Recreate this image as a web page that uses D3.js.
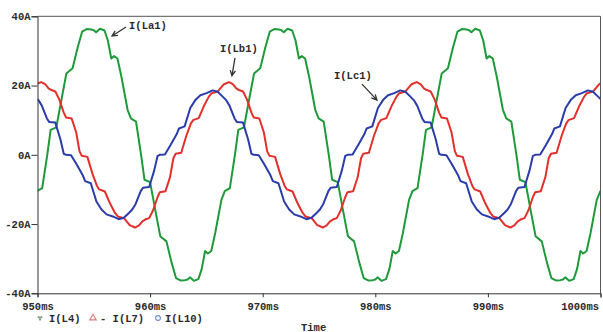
<!DOCTYPE html>
<html>
<head>
<meta charset="utf-8">
<script src="https://cdn.jsdelivr.net/npm/d3@7"></script>
<style>
  html, body { margin: 0; padding: 0; background: #fff; }
  svg { display: block; }
  .axis text { font-family: "Liberation Mono", "DejaVu Sans Mono", monospace; font-size: 10.5px; font-weight: bold; fill: #2a2a2a; }
  .lbl { font-family: "Liberation Mono", "DejaVu Sans Mono", monospace; font-size: 10.5px; font-weight: bold; fill: #2a2a2a; }
</style>
</head>
<body>
<svg id="chart" width="603" height="332"></svg>
<script>
// Axis ticks
const xTicks = [950, 960, 970, 980, 990, 1000];   // ms
const yTicks = [-40, -20, 0, 20, 40];             // A

// I(L4)  -- phase a inductor current (green)
const tL4 = [950, 950.417, 950.867, 951.167, 951.667, 952.217, 952.567, 953.117, 953.567, 953.967, 954.367, 954.767,
  955.0, 955.2, 955.55, 955.95, 956.25, 956.55, 956.8, 957.1, 957.45, 958.0, 958.3, 958.75, 959.2, 959.5, 960.0, 960.55, 960.9, 961.45, 961.9, 962.3, 962.7, 963.1,
  963.333, 963.533, 963.883, 964.283, 964.583, 964.883, 965.133, 965.433, 965.783, 966.333, 966.633, 967.083, 967.533, 967.833, 968.333, 968.883, 969.233, 969.783, 970.233, 970.633, 971.033, 971.433,
  971.667, 971.867, 972.217, 972.617, 972.917, 973.217, 973.467, 973.767, 974.117, 974.667, 974.967, 975.417, 975.867, 976.167, 976.667, 977.217, 977.567, 978.117, 978.567, 978.967, 979.367, 979.767,
  980.0, 980.2, 980.55, 980.95, 981.25, 981.55, 981.8, 982.1, 982.45, 983.0, 983.3, 983.75, 984.2, 984.5, 985.0, 985.55, 985.9, 986.45, 986.9, 987.3, 987.7, 988.1,
  988.333, 988.533, 988.883, 989.283, 989.583, 989.883, 990.133, 990.433, 990.783, 991.333, 991.633, 992.083, 992.533, 992.833, 993.333, 993.883, 994.233, 994.783, 995.233, 995.633, 996.033, 996.433,
  996.667, 996.867, 997.217, 997.617, 997.917, 998.217, 998.467, 998.767, 999.117, 999.667, 1000];
const iL4 = [-10.4, -9.6, 0, 7.2, 7.9, 17.5, 23.5, 25, 31, 35.6, 36.3, 36.2,
  36, 35.4, 36.4, 35.9, 33, 27.8, 28.5, 27.8, 22.6, 13, 10.5, 9.6, 0, -7.2, -7.9, -17.5, -23.5, -25, -31, -35.6, -36.3, -36.2,
  -36, -35.4, -36.4, -35.9, -33, -27.8, -28.5, -27.8, -22.6, -13, -10.5, -9.6, 0, 7.2, 7.9, 17.5, 23.5, 25, 31, 35.6, 36.3, 36.2,
  36, 35.4, 36.4, 35.9, 33, 27.8, 28.5, 27.8, 22.6, 13, 10.5, 9.6, 0, -7.2, -7.9, -17.5, -23.5, -25, -31, -35.6, -36.3, -36.2,
  -36, -35.4, -36.4, -35.9, -33, -27.8, -28.5, -27.8, -22.6, -13, -10.5, -9.6, 0, 7.2, 7.9, 17.5, 23.5, 25, 31, 35.6, 36.3, 36.2,
  36, 35.4, 36.4, 35.9, 33, 27.8, 28.5, 27.8, 22.6, 13, 10.5, 9.6, 0, -7.2, -7.9, -17.5, -23.5, -25, -31, -35.6, -36.3, -36.2,
  -36, -35.4, -36.4, -35.9, -33, -27.8, -28.5, -27.8, -22.6, -13, -10.4];

// -I(L7)  -- phase b inductor current (red)
const tL7 = [950,
  950.333, 950.683, 950.983, 951.233, 951.583, 951.933, 952.333, 952.533, 953.033, 953.433, 953.733, 953.933, 954.433, 954.883, 955.283, 955.483, 955.983, 956.433, 956.883, 957.133, 957.683, 958.183,
  958.667, 959.017, 959.317, 959.567, 959.917, 960.267, 960.667, 960.867, 961.367, 961.767, 962.067, 962.267, 962.767, 963.217, 963.617, 963.817, 964.317, 964.767, 965.217, 965.467, 966.017, 966.517,
  967.0, 967.35, 967.65, 967.9, 968.25, 968.6, 969.0, 969.2, 969.7, 970.1, 970.4, 970.6, 971.1, 971.55, 971.95, 972.15, 972.65, 973.1, 973.55, 973.8, 974.35, 974.85,
  975.333, 975.683, 975.983, 976.233, 976.583, 976.933, 977.333, 977.533, 978.033, 978.433, 978.733, 978.933, 979.433, 979.883, 980.283, 980.483, 980.983, 981.433, 981.883, 982.133, 982.683, 983.183,
  983.667, 984.017, 984.317, 984.567, 984.917, 985.267, 985.667, 985.867, 986.367, 986.767, 987.067, 987.267, 987.767, 988.217, 988.617, 988.817, 989.317, 989.767, 990.217, 990.467, 991.017, 991.517,
  992.0, 992.35, 992.65, 992.9, 993.25, 993.6, 994.0, 994.2, 994.7, 995.1, 995.4, 995.6, 996.1, 996.55, 996.95, 997.15, 997.65, 998.1, 998.55, 998.8, 999.35, 999.85,
  1000];
const iL7 = [20.6,
  21.0, 20.4, 19.2, 18.7, 18.3, 16.0, 12.2, 10.8, 10.5, 6.5, 1.0, -0.3, -0.6, -5.5, -9.0, -10.0, -10.6, -14.0, -16.8, -17.8, -18.3, -20.3,
  -21.0, -20.4, -19.2, -18.7, -18.3, -16.0, -12.2, -10.8, -10.5, -6.5, -1.0, 0.3, 0.6, 5.5, 9.0, 10.0, 10.6, 14.0, 16.8, 17.8, 18.3, 20.3,
  21.0, 20.4, 19.2, 18.7, 18.3, 16.0, 12.2, 10.8, 10.5, 6.5, 1.0, -0.3, -0.6, -5.5, -9.0, -10.0, -10.6, -14.0, -16.8, -17.8, -18.3, -20.3,
  -21.0, -20.4, -19.2, -18.7, -18.3, -16.0, -12.2, -10.8, -10.5, -6.5, -1.0, 0.3, 0.6, 5.5, 9.0, 10.0, 10.6, 14.0, 16.8, 17.8, 18.3, 20.3,
  21.0, 20.4, 19.2, 18.7, 18.3, 16.0, 12.2, 10.8, 10.5, 6.5, 1.0, -0.3, -0.6, -5.5, -9.0, -10.0, -10.6, -14.0, -16.8, -17.8, -18.3, -20.3,
  -21.0, -20.4, -19.2, -18.7, -18.3, -16.0, -12.2, -10.8, -10.5, -6.5, -1.0, 0.3, 0.6, 5.5, 9.0, 10.0, 10.6, 14.0, 16.8, 17.8, 18.3, 20.3,
  20.6];

// I(L10)  -- phase c inductor current (blue)
const tL10 = [950, 950.083, 950.383, 950.833, 951.033, 951.583, 952.033, 952.333, 952.533, 952.983, 953.483, 954.033, 954.233, 954.733, 955.233, 955.683, 956.133, 956.683,
  957.217, 957.667, 958.117, 958.417, 958.717, 959.167, 959.367, 959.917, 960.367, 960.667, 960.867, 961.317, 961.817, 962.367, 962.567, 963.067, 963.567, 964.017, 964.467, 965.017,
  965.55, 966.0, 966.45, 966.75, 967.05, 967.5, 967.7, 968.25, 968.7, 969.0, 969.2, 969.65, 970.15, 970.7, 970.9, 971.4, 971.9, 972.35, 972.8, 973.35,
  973.883, 974.333, 974.783, 975.083, 975.383, 975.833, 976.033, 976.583, 977.033, 977.333, 977.533, 977.983, 978.483, 979.033, 979.233, 979.733, 980.233, 980.683, 981.133, 981.683,
  982.217, 982.667, 983.117, 983.417, 983.717, 984.167, 984.367, 984.917, 985.367, 985.667, 985.867, 986.317, 986.817, 987.367, 987.567, 988.067, 988.567, 989.017, 989.467, 990.017,
  990.55, 991.0, 991.45, 991.75, 992.05, 992.5, 992.7, 993.25, 993.7, 994.0, 994.2, 994.65, 995.15, 995.7, 995.9, 996.4, 996.9, 997.35, 997.8, 998.35,
  998.883, 999.333, 999.783, 1000];
const iL10 = [16.1, 15.8, 14.2, 10.5, 9.5, 9.3, 4.5, 0.3, 0, -0.1, -2.8, -6.0, -7.6, -8.2, -13.5, -15.8, -17.2, -17.8,
  -18.6, -18.2, -16.8, -15.8, -14.2, -10.5, -9.5, -9.3, -4.5, -0.3, 0, 0.1, 2.8, 6.0, 7.6, 8.2, 13.5, 15.8, 17.2, 17.8,
  18.6, 18.2, 16.8, 15.8, 14.2, 10.5, 9.5, 9.3, 4.5, 0.3, 0, -0.1, -2.8, -6.0, -7.6, -8.2, -13.5, -15.8, -17.2, -17.8,
  -18.6, -18.2, -16.8, -15.8, -14.2, -10.5, -9.5, -9.3, -4.5, -0.3, 0, 0.1, 2.8, 6.0, 7.6, 8.2, 13.5, 15.8, 17.2, 17.8,
  18.6, 18.2, 16.8, 15.8, 14.2, 10.5, 9.5, 9.3, 4.5, 0.3, 0, -0.1, -2.8, -6.0, -7.6, -8.2, -13.5, -15.8, -17.2, -17.8,
  -18.6, -18.2, -16.8, -15.8, -14.2, -10.5, -9.5, -9.3, -4.5, -0.3, 0, 0.1, 2.8, 6.0, 7.6, 8.2, 13.5, 15.8, 17.2, 17.8,
  18.6, 18.2, 16.8, 16.1];

const traces = [
  { legend: "I(L4)",   t: tL4,  i: iL4,  color: "#1f9a3a", marker: d3.symbolWye,      markColor: "#8fa392" },
  { legend: "- I(L7)", t: tL7,  i: iL7,  color: "#e2302b", marker: d3.symbolTriangle, markColor: "#e07a78" },
  { legend: "I(L10)",  t: tL10, i: iL10, color: "#2a3caa", marker: d3.symbolCircle,   markColor: "#6d8cc8" }
];

// Trace name callouts: arrow tip in data units, tail and text in pixel offsets from the tip
const callouts = [
  { text: "I(La1)", t: 956.62, v: 34.3, dx: 14, dy: -9,  tx: 17, ty: -7 },
  { text: "I(Lb1)", t: 967.27, v: 22.8, dx: 3,  dy: -18, tx: -12, ty: -23.5 },
  { text: "I(Lc1)", t: 980.15, v: 15.8, dx: -15, dy: -16, tx: -43, ty: -21.5 }
];

const svg = d3.select("#chart");
const x = d3.scaleLinear().domain([950, 1000]).range([37.5, 600.5]);
const y = d3.scaleLinear().domain([-40, 40]).range([293.3, 16.3]);

svg.append("clipPath").attr("id", "plotClip")
  .append("rect")
  .attr("x", x(950)).attr("y", y(40))
  .attr("width", x(1000) - x(950)).attr("height", y(-40) - y(40));

// plot frame (top and right)
svg.append("path")
  .attr("d", `M${x(950)},${y(40)}H${x(1000)}V${y(-40)}`)
  .attr("fill", "none").attr("stroke", "#555").attr("stroke-width", 1);

// traces
const line = d3.line().x(d => x(d[0])).y(d => y(d[1]));
const plot = svg.append("g").attr("clip-path", "url(#plotClip)");
traces.forEach(s => {
  plot.append("path")
    .datum(d3.zip(s.t, s.i))
    .attr("d", line)
    .attr("fill", "none")
    .attr("stroke", s.color)
    .attr("stroke-width", 2)
    .attr("stroke-linejoin", "round");
});

// axes
const xAxis = svg.append("g").attr("class", "axis")
  .attr("transform", `translate(0,${y(-40)})`)
  .call(d3.axisBottom(x).tickValues(xTicks).tickFormat(d => d + "ms").tickSize(4).tickPadding(5));
xAxis.selectAll("text").filter(d => d === 1000).attr("text-anchor", "end").attr("x", -2);

svg.append("g").attr("class", "axis")
  .attr("transform", `translate(${x(950)},0)`)
  .call(d3.axisLeft(y).tickValues(yTicks).tickFormat(d => d + "A").tickSize(6).tickPadding(1));

svg.selectAll(".axis .domain").attr("stroke", "#333");
svg.selectAll(".axis .tick line").attr("stroke", "#333");

// callouts
const arrows = svg.append("g");
callouts.forEach(c => {
  const px = x(c.t), py = y(c.v);
  const qx = px + c.dx, qy = py + c.dy;
  const ang = Math.atan2(qy - py, qx - px);
  const L = 6, spread = 0.45;
  const h1 = [px + L * Math.cos(ang + spread), py + L * Math.sin(ang + spread)];
  const h2 = [px + L * Math.cos(ang - spread), py + L * Math.sin(ang - spread)];
  arrows.append("path")
    .attr("d", `M${qx},${qy}L${px},${py}M${h1[0]},${h1[1]}L${px},${py}L${h2[0]},${h2[1]}`)
    .attr("fill", "none").attr("stroke", "#333").attr("stroke-width", 1.3);
  arrows.append("text").attr("class", "lbl")
    .attr("x", px + c.tx).attr("y", py + c.ty)
    .text(c.text);
});

// legend row
const legendX = [40, 93, 158];
const legendTextX = [49, 100, 165];
const legend = svg.append("g");
traces.forEach((s, k) => {
  const sym = legend.append("path")
    .attr("d", d3.symbol().type(s.marker).size(s.marker === d3.symbolWye ? 14 : 18)())
    .attr("transform", `translate(${legendX[k]},${318})`);
  if (s.marker === d3.symbolWye) sym.attr("fill", s.markColor);
  else sym.attr("fill", "none").attr("stroke", s.markColor).attr("stroke-width", 1.1);
  legend.append("text").attr("class", "lbl")
    .attr("x", legendTextX[k]).attr("y", 321.5)
    .text(s.legend);
});

// x axis title
svg.append("text").attr("class", "lbl")
  .attr("x", 301).attr("y", 330.5)
  .text("Time");
</script>
</body>
</html>
